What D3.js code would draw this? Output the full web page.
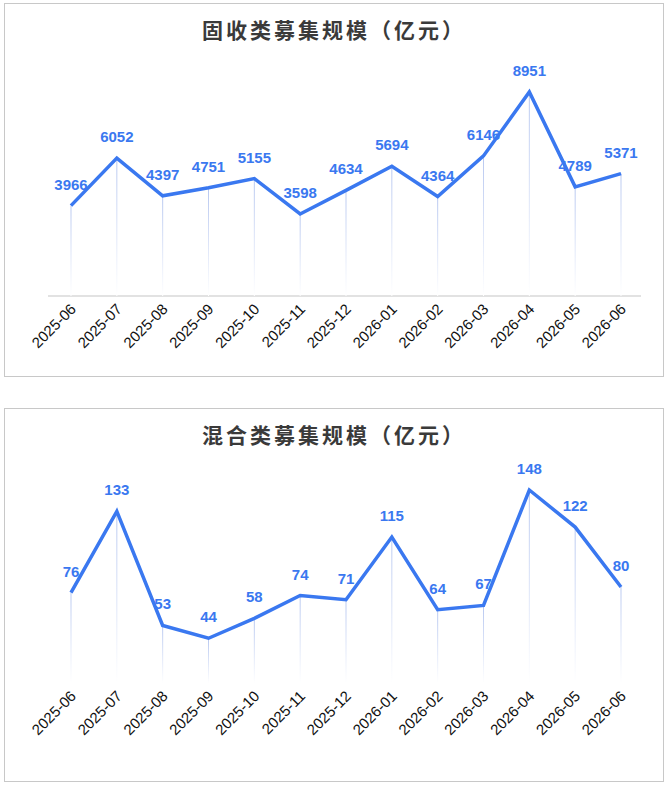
<!DOCTYPE html>
<html><head><meta charset="utf-8">
<script src="https://cdn.jsdelivr.net/npm/d3@7"></script>
<style>
body{margin:0;background:#fff;font-family:"Liberation Sans",Arial,sans-serif;}
</style></head><body><svg id="c" width="668" height="787"></svg>
<script>
var months = ["2025-06","2025-07","2025-08","2025-09","2025-10","2025-11","2025-12",
  "2026-01","2026-02","2026-03","2026-04","2026-05","2026-06"];
var fixedIncome = [3966,6052,4397,4751,5155,3598,4634,5694,4364,6146,8951,4789,5371];
var mixed = [76,133,53,44,58,74,71,115,64,67,148,122,80];

var svg = d3.select("#c");
var defs = svg.append("defs");
var grad = defs.append("linearGradient").attr("id","drop").attr("x1",0).attr("y1",0).attr("x2",0).attr("y2",1);
grad.append("stop").attr("offset","0%").attr("stop-color","#b8c8f0");
grad.append("stop").attr("offset","100%").attr("stop-color","#ffffff");

function drawPanel(top, title, values, zeroY, maxVal, maxY, dropEnd, showBase) {
  var g = svg.append("g").attr("transform","translate(0," + top + ")");
  g.append("rect").attr("x",4.5).attr("y",0.5).attr("width",659).attr("height",373)
    .attr("fill","#fff").attr("stroke","#c8c8c8");
  g.append("text").attr("x",334).attr("y",35).attr("text-anchor","middle")
    .attr("font-family","'Noto Sans CJK SC'").attr("font-weight","bold")
    .attr("font-size",21).attr("letter-spacing",3).attr("fill","#3a3a3a").text(title);

  var x = d3.scalePoint().domain(months).range([71,621]);
  var y = d3.scaleLinear().domain([0,maxVal]).range([zeroY,maxY]);

  if (showBase) {
    g.append("line").attr("x1",48).attr("x2",641).attr("y1",dropEnd).attr("y2",dropEnd)
      .attr("stroke","#d8d8d8").attr("stroke-width",1.5);
  }
  g.selectAll(".drop").data(values).enter().append("rect")
    .attr("x", function(d,i){ return x(months[i]) - 0.5; })
    .attr("y", function(d){ return y(d); })
    .attr("width",1)
    .attr("height", function(d){ return dropEnd - y(d); })
    .attr("fill","url(#drop)");

  var line = d3.line().x(function(d,i){ return x(months[i]); }).y(function(d){ return y(d); });
  g.append("path").datum(values).attr("d",line).attr("fill","none")
    .attr("stroke","#3a78f0").attr("stroke-width",3.5).attr("stroke-linejoin","miter");

  g.selectAll(".val").data(values).enter().append("text")
    .attr("x", function(d,i){ return x(months[i]); })
    .attr("y", function(d){ return y(d) - 16; })
    .attr("text-anchor","middle").attr("font-size",15).attr("font-weight","bold")
    .attr("fill","#3a78f0").text(function(d){ return d; });

  g.selectAll(".lab").data(months).enter().append("text")
    .attr("transform", function(d){ return "translate(" + (x(d) + 6) + "," + (dropEnd + 14) + ") rotate(-45)"; })
    .attr("text-anchor","end").attr("font-size",15).attr("fill","#111").text(function(d){ return d; });
}

drawPanel(3, "固收类募集规模（亿元）", fixedIncome, 293, 8951, 89, 293, true);
drawPanel(408, "混合类募集规模（亿元）", mixed, 293, 148, 82, 275, false);
</script></body></html>
